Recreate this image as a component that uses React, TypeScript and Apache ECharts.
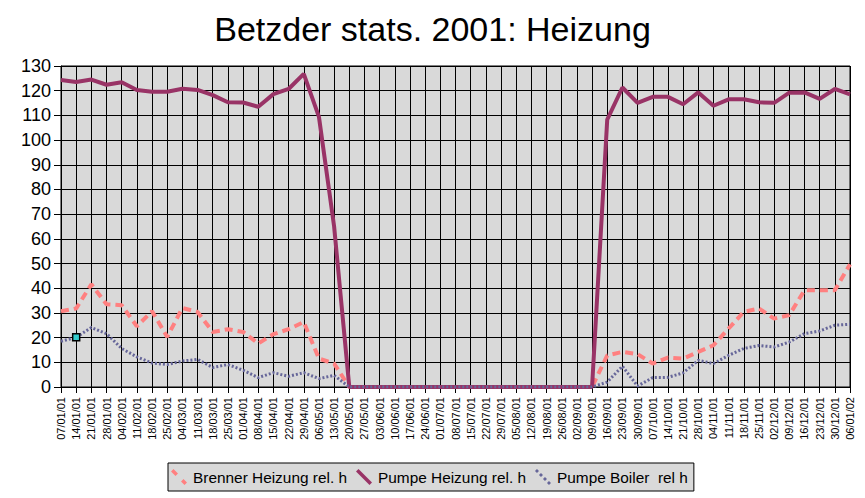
import React, { useEffect, useRef } from "react";
import * as echarts from "echarts";

const categories = [
  "07/01/01", "14/01/01", "21/01/01", "28/01/01", "04/02/01", "11/02/01", "18/02/01", "25/02/01",
  "04/03/01", "11/03/01", "18/03/01", "25/03/01", "01/04/01", "08/04/01", "15/04/01", "22/04/01",
  "29/04/01", "06/05/01", "13/05/01", "20/05/01", "27/05/01", "03/06/01", "10/06/01", "17/06/01",
  "24/06/01", "01/07/01", "08/07/01", "15/07/01", "22/07/01", "29/07/01", "05/08/01", "12/08/01",
  "19/08/01", "26/08/01", "02/09/01", "09/09/01", "16/09/01", "23/09/01", "30/09/01", "07/10/01",
  "14/10/01", "21/10/01", "28/10/01", "04/11/01", "11/11/01", "18/11/01", "25/11/01", "02/12/01",
  "09/12/01", "16/12/01", "23/12/01", "30/12/01", "06/01/02",
];

const brennerHeizung = [
  30.7, 31.8, 41.6, 33.5, 33.1, 24.6, 30.7, 20.3, 32.0, 30.4, 22.3, 23.4, 22.3, 17.6, 21.4, 23.4,
  26.3, 11.5, 9.5, 0, 0, 0, 0, 0, 0, 0, 0, 0, 0, 0, 0, 0,
  0, 0, 0, 0, 12.8, 14.2, 13.3, 9.5, 11.9, 11.5, 14.2, 16.9, 23.7, 30.4, 31.8, 27.7,
  29.1, 39.2, 39.2, 39.2, 49.7,
];

const pumpeHeizung = [
  124.3, 123.5, 124.5, 122.4, 123.4, 120.3, 119.6, 119.6, 120.8, 120.3, 118.2, 115.3, 115.2, 113.5, 118.6, 120.7,
  126.8, 109.4, 65, 0, 0, 0, 0, 0, 0, 0, 0, 0, 0, 0, 0, 0,
  0, 0, 0, 0, 108.3, 121.3, 115.1, 117.5, 117.5, 114.5, 119.3, 113.9, 116.5, 116.5, 115.3, 115.1,
  119.2, 119.3, 116.7, 120.7, 118.5,
];

const pumpeBoiler = [
  18.5, 20.1, 24.1, 21.6, 15.6, 12.2, 9.7, 9.1, 10.5, 11.2, 7.9, 9.1, 6.8, 3.8, 5.8, 4.3,
  5.8, 3.4, 4.7, 0, 0, 0, 0, 0, 0, 0, 0, 0, 0, 0, 0, 0,
  0, 0, 0, 0, 2.0, 8.4, 0.4, 3.8, 3.9, 5.7, 10.8, 9.5, 12.8, 15.6, 16.8, 16.2,
  18.2, 21.6, 22.7, 25.0, 25.4,
];

const yTicks = { min: 0, max: 130, interval: 10 };

const FONT = "Arial, 'Liberation Sans', sans-serif";

export default function App() {
  const ref = useRef<HTMLDivElement>(null);

  useEffect(() => {
    document.body.style.margin = "0";
    if (!ref.current) return;
    const chart = echarts.init(ref.current, null, { renderer: "svg" });

    const boilerData = pumpeBoiler.map((v, i) =>
      i === 1
        ? {
            value: v,
            symbol: "rect",
            symbolSize: 7,
            itemStyle: { color: "#33CCCC", borderColor: "#000", borderWidth: 1.5 },
          }
        : v
    );

    chart.setOption({
      animation: false,
      backgroundColor: "#fff",
      textStyle: { fontFamily: FONT },
      title: {
        text: "Betzder stats. 2001: Heizung",
        left: "center",
        top: 7,
        textStyle: { fontFamily: FONT, fontSize: 34, fontWeight: "normal", color: "#000" },
      },
      legend: {
        left: 168,
        top: 463,
        padding: [6, 6, 6, 3],
        itemGap: 9,
        itemWidth: 18,
        itemHeight: 16,
        backgroundColor: "#D9D9D9",
        borderColor: "#000",
        borderWidth: 1,
        borderRadius: 0,
        textStyle: { fontFamily: FONT, fontSize: 15.4, color: "#000" },
        data: [
          {
            name: "Brenner Heizung rel. h",
            icon: "path://M0,2.5L2.5,0L7,4.5L4.5,7Z M10,12.5L12.5,10L16,13.5L13.5,16Z",
            itemStyle: { color: "#FF8080" },
          },
          {
            name: "Pumpe Heizung rel. h",
            icon: "path://M0,2.5L2.5,0L16,13.5L13.5,16Z",
            itemStyle: { color: "#993366" },
          },
          {
            name: "Pumpe Boiler  rel h",
            icon: "path://M0,2L2,0L4,2L2,4Z M4,6L6,4L8,6L6,8Z M8,10L10,8L12,10L10,12Z M12,14L14,12L16,14L14,16Z",
            itemStyle: { color: "#666699" },
          },
        ],
      },
      grid: {
        left: 61,
        right: 15,
        top: 66,
        bottom: 111,
        show: true,
        backgroundColor: "#D9D9D9",
        borderColor: "#000",
        borderWidth: 1,
      },
      xAxis: {
        type: "category",
        boundaryGap: false,
        data: categories,
        axisLine: { show: true, lineStyle: { color: "#000", width: 1 } },
        axisTick: { show: true, length: 6, interval: 0, lineStyle: { color: "#000" } },
        axisLabel: {
          interval: 0,
          rotate: 90,
          margin: 10,
          fontSize: 11,
          fontFamily: FONT,
          color: "#000",
        },
        splitLine: { show: true, interval: 0, lineStyle: { color: "#000", width: 1 } },
      },
      yAxis: {
        type: "value",
        min: yTicks.min,
        max: yTicks.max,
        interval: yTicks.interval,
        axisLine: { show: true, lineStyle: { color: "#000", width: 1 } },
        axisTick: { show: true, length: 7, lineStyle: { color: "#000" } },
        axisLabel: { fontSize: 18, fontFamily: FONT, color: "#000", margin: 10 },
        splitLine: { show: true, lineStyle: { color: "#000", width: 1 } },
      },
      series: [
        {
          name: "Brenner Heizung rel. h",
          type: "line",
          data: brennerHeizung,
          symbol: "none",
          color: "#FF8080",
          lineStyle: { color: "#FF8080", width: 4, type: [8, 5] },
        },
        {
          name: "Pumpe Heizung rel. h",
          type: "line",
          data: pumpeHeizung,
          symbol: "none",
          color: "#993366",
          lineStyle: { color: "#993366", width: 4 },
        },
        {
          name: "Pumpe Boiler  rel h",
          type: "line",
          data: boilerData,
          symbol: "none",
          color: "#666699",
          lineStyle: { color: "#666699", width: 3, type: [2, 2] },
        },
      ],
    });

    return () => chart.dispose();
  }, []);

  return <div ref={ref} style={{ width: 865, height: 498 }} />;
}
